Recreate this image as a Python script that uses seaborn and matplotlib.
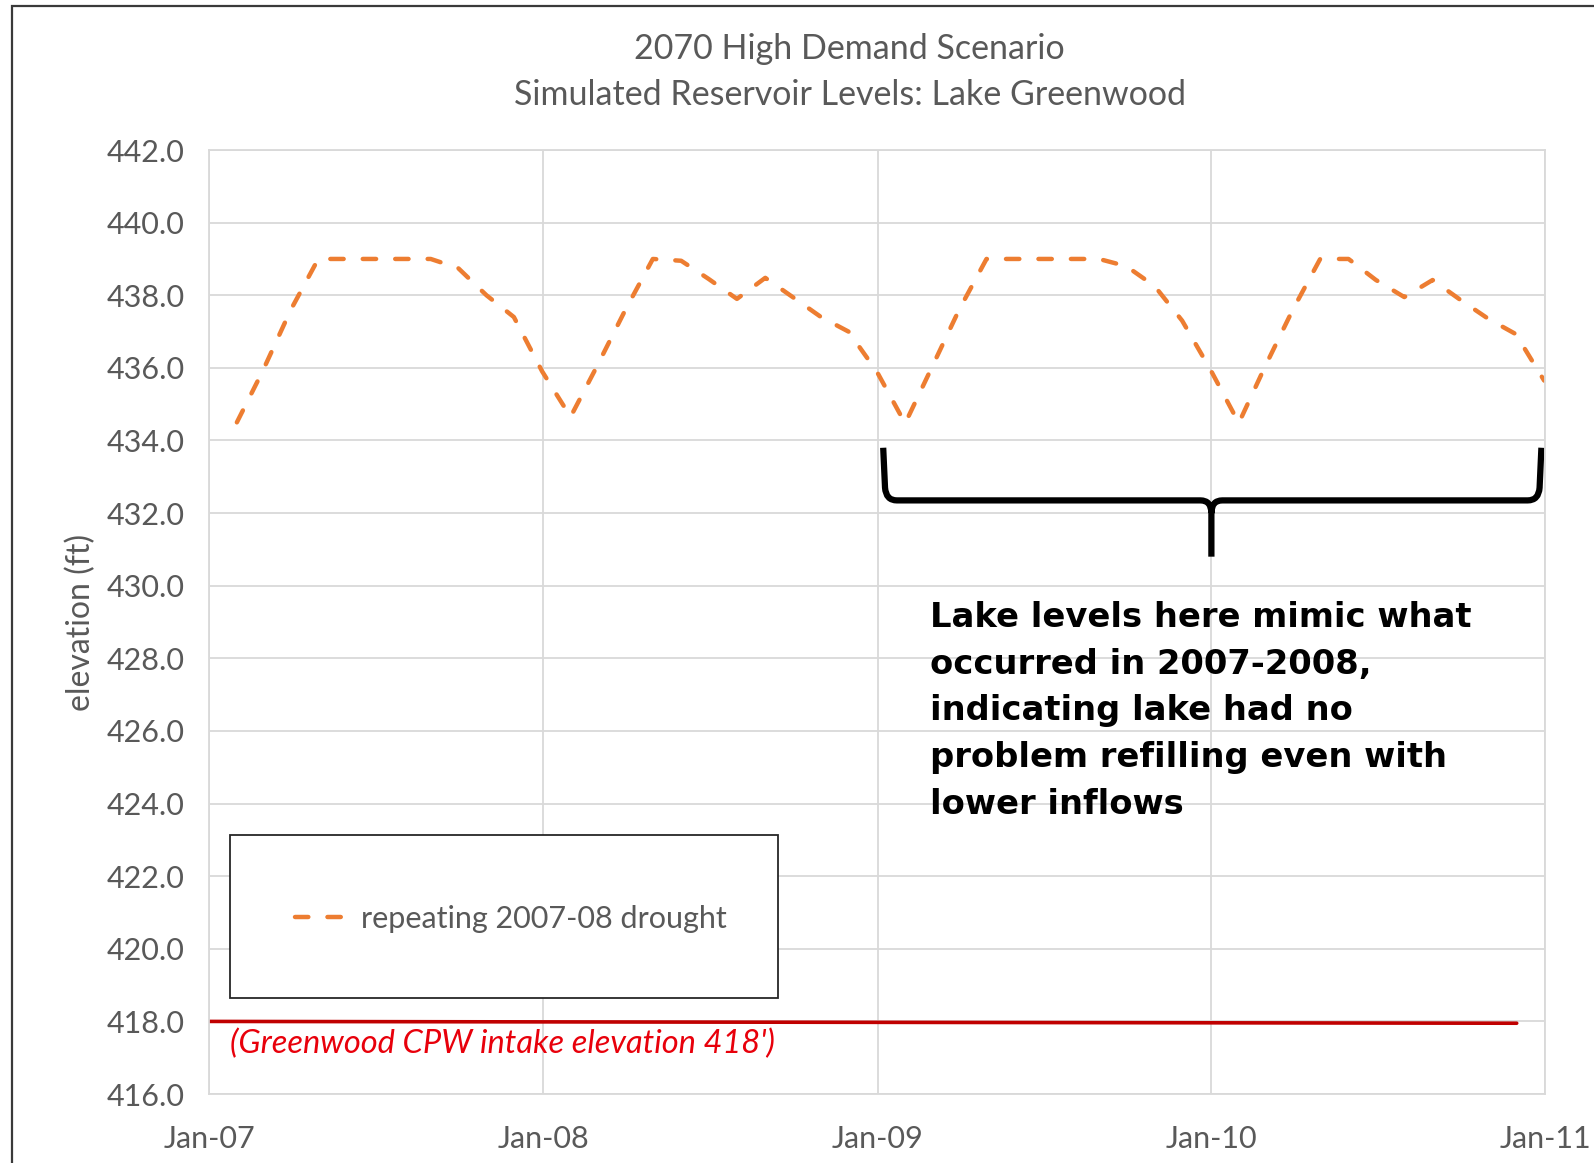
"""
Simulated reservoir levels for Lake Greenwood, 2070 high demand scenario.
"""

import matplotlib
matplotlib.use("Agg")
import matplotlib.pyplot as plt
import matplotlib.dates as mdates
from matplotlib.patches import Rectangle, PathPatch
from matplotlib.path import Path
import numpy as np
import pandas as pd
import seaborn as sns

# Month-end simulated lake levels (ft)
LEVEL_2007 = [434.5, 435.9, 437.6, 439.0, 439.0, 439.0, 439.0, 439.0, 438.75, 438.0, 437.4, 435.9]
LEVEL_2008 = [434.65, 436.05, 437.6, 439.0, 438.95, 438.45, 437.9, 438.48, 437.95, 437.4, 437.0, 435.9]
LEVEL_2009 = [434.47, 435.95, 437.6, 439.0, 439.0, 439.0, 439.0, 439.0, 438.8, 438.25, 437.3, 435.95]
LEVEL_2010 = [434.48, 436.0, 437.6, 439.0, 439.0, 438.42, 437.95, 438.42, 437.88, 437.35, 436.93, 435.65]
SERIES_LABEL = "repeating 2007-08 drought"

# Intake elevation line
INTAKE_DATES = ["2007-01-01", "2010-12-01"]
INTAKE_LEVELS = [418.0, 417.95]
INTAKE_LABEL = "(Greenwood CPW intake elevation 418')"

YEAR_TICKS = ["2007-01-01", "2008-01-01", "2009-01-01", "2010-01-01", "2011-01-01"]
Y_TICKS = np.arange(416, 443, 2)

TITLE_1 = "2070 High Demand Scenario"
TITLE_2 = "Simulated Reservoir Levels: Lake Greenwood"
NOTE = ("Lake levels here mimic what\noccurred in 2007-2008,\nindicating lake had no\n"
        "problem refilling even with\nlower inflows")

GREY = "#595959"
GRID = "#D9D9D9"
ORANGE = "#ED7D31"
DARK_RED = "#C00000"
RED = "#E8000B"

sns.set_style("white")
plt.rcParams["font.family"] = ["Lato", "DejaVu Sans"]

levels = LEVEL_2007 + LEVEL_2008 + LEVEL_2009 + LEVEL_2010
df = pd.DataFrame({
    "date": pd.date_range("2007-01-31", periods=len(levels), freq="ME"),
    "level": levels,
})
df_intake = pd.DataFrame({"date": pd.to_datetime(INTAKE_DATES), "level": INTAKE_LEVELS})

fig = plt.figure(figsize=(15.94, 11.63), dpi=100)
ax = fig.add_axes([0.1314, 0.0593, 0.8379, 0.8117])

sns.lineplot(data=df_intake, x="date", y="level", ax=ax, color=DARK_RED,
             linewidth=2.6, legend=False)
sns.lineplot(data=df, x="date", y="level", ax=ax, color=ORANGE, linewidth=3.2,
             linestyle=(0, (3.0, 4.3)), dash_capstyle="round", label=SERIES_LABEL)

ax.set_xlim(pd.Timestamp(YEAR_TICKS[0]), pd.Timestamp(YEAR_TICKS[-1]))
ax.set_ylim(416, 442)
ax.set_xticks(pd.to_datetime(YEAR_TICKS))
ax.xaxis.set_major_formatter(mdates.DateFormatter("%b-%y"))
ax.set_yticks(Y_TICKS)
ax.set_yticklabels([f"{v:.1f}" for v in Y_TICKS])
ax.grid(True, color=GRID, linewidth=1.3)
ax.set_axisbelow(True)
for sp in ax.spines.values():
    sp.set_color(GRID)
    sp.set_linewidth(1.3)
ax.tick_params(axis="both", length=0, labelsize=22, labelcolor=GREY)
ax.tick_params(axis="y", pad=18)
ax.tick_params(axis="x", pad=22)
ax.set_xlabel("")
ax.set_ylabel("elevation (ft)", fontsize=23, color=GREY, labelpad=7)

# legend box: frame drawn separately so its size matches the original
ax.add_patch(Rectangle((0.0151, 0.1014), 0.4104, 0.1734, transform=ax.transAxes,
                       facecolor="white", edgecolor="#262626", linewidth=1.3, zorder=3))
leg = ax.legend(loc="center", bbox_to_anchor=(0.2258, 0.1858), fontsize=22,
                frameon=False, handlelength=1.75, handletextpad=0.4, labelcolor=GREY)
leg.set_zorder(4)

ax.text(pd.Timestamp("2007-01-24"), 417.37, INTAKE_LABEL, color=RED, fontsize=23.5,
        style="italic", ha="left", va="center")

# curly brace over 2009-2010
L = mdates.date2num(pd.Timestamp("2009-01-07"))
R = mdates.date2num(pd.Timestamp("2010-12-28"))
C = mdates.date2num(pd.Timestamp("2010-01-01"))
y_top, y_bar, y_tip = 433.8, 432.35, 430.8
rx, ry = 12, 0.35
verts = [
    (L, y_top), (L + 2, y_bar + ry), (L + 3, y_bar), (L + rx + 3, y_bar),
    (C - rx, y_bar), (C, y_bar), (C, y_bar - ry), (C, y_tip),
    (C, y_bar - ry), (C, y_bar), (C + rx, y_bar),
    (R - rx - 3, y_bar), (R - 3, y_bar), (R - 2, y_bar + ry), (R, y_top),
]
codes = [
    Path.MOVETO, Path.LINETO, Path.CURVE3, Path.CURVE3,
    Path.LINETO, Path.CURVE3, Path.CURVE3, Path.LINETO,
    Path.MOVETO, Path.CURVE3, Path.CURVE3,
    Path.LINETO, Path.CURVE3, Path.CURVE3, Path.LINETO,
]
ax.add_patch(PathPatch(Path(verts, codes), facecolor="none", edgecolor="black",
                       linewidth=4.5, capstyle="butt", joinstyle="round"))

ax.text(pd.Timestamp("2009-02-27"), 426.55, NOTE, fontsize=24.3, fontweight="bold",
        family=["DejaVu Sans"], color="black", ha="left", va="center", linespacing=1.53)

fig.text(0.533, 0.9575, TITLE_1, ha="center", va="center", fontsize=24.5, color=GREY)
fig.text(0.533, 0.918, TITLE_2, ha="center", va="center", fontsize=24.5, color=GREY)

# outer chart border (cropped on the right and bottom)
fig.patches.append(Rectangle((12 / 1594, -0.1), 1.2, 1.1 - 6 / 1163,
                             transform=fig.transFigure, fill=False,
                             edgecolor="#3A3A3A", linewidth=1.6))

fig.savefig("out.png", dpi=100)
plt.close(fig)
